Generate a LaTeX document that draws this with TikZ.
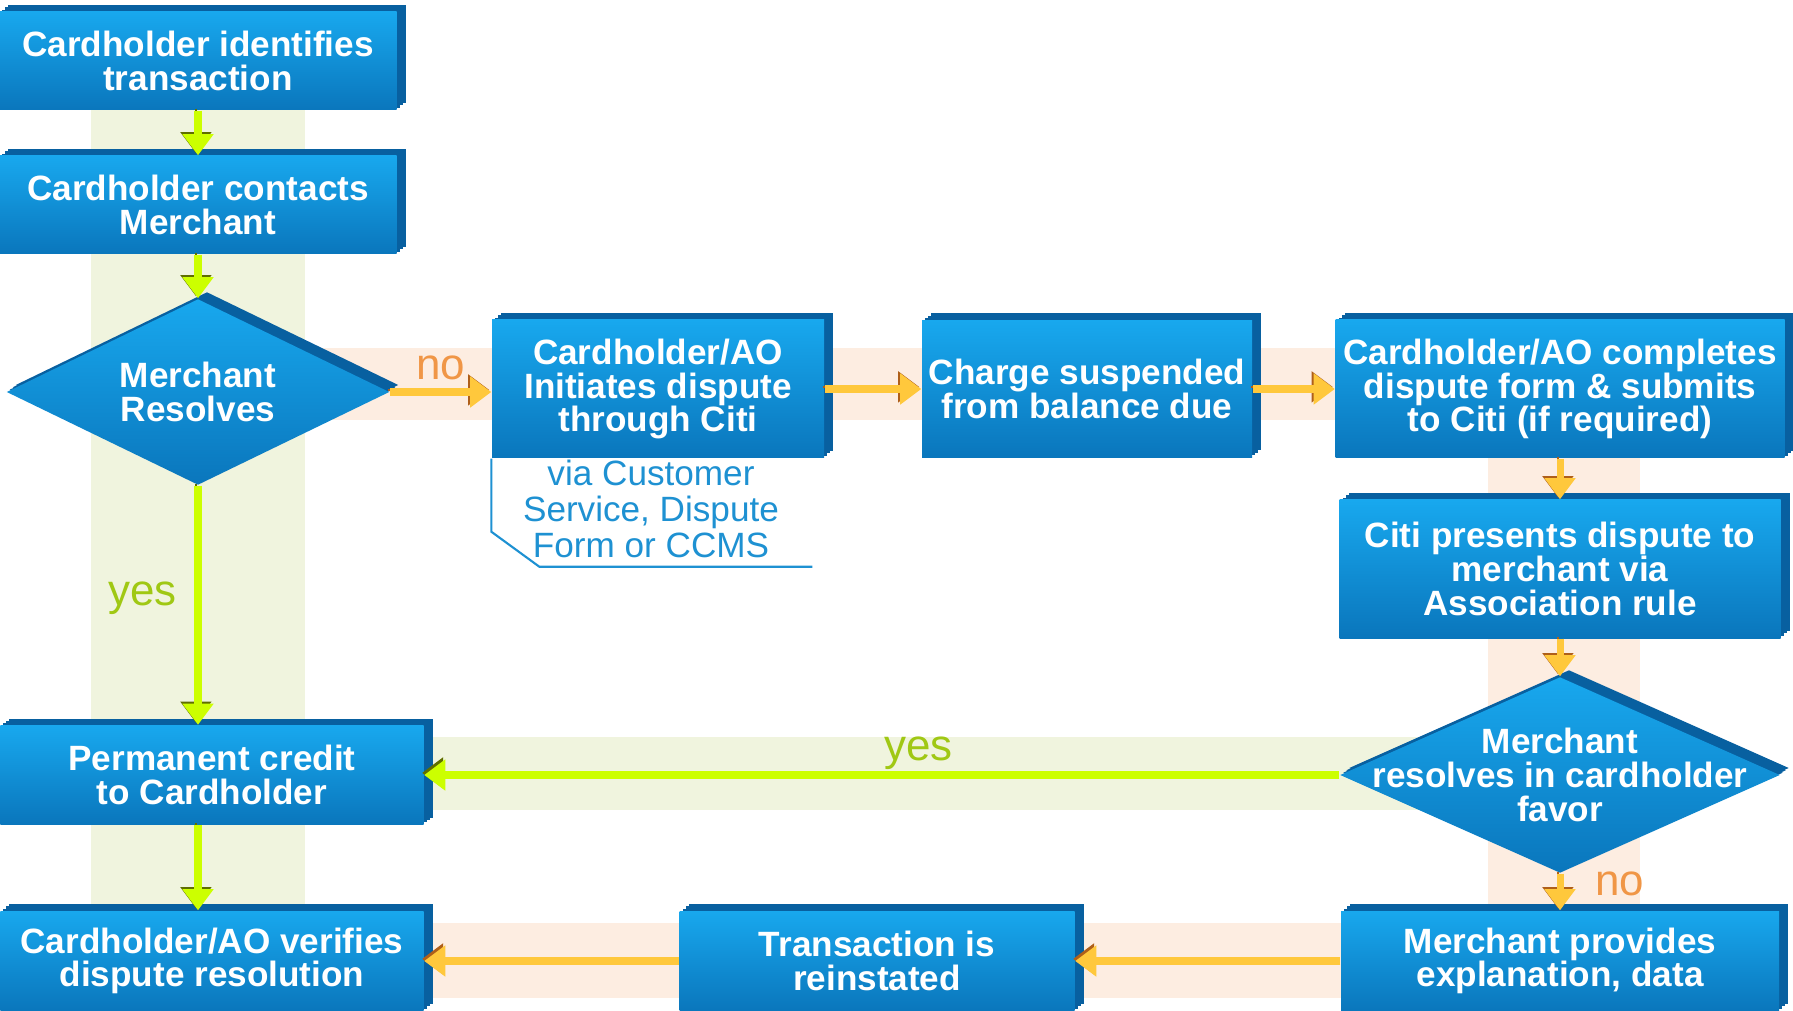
\documentclass[tikz,border=0pt]{standalone}
\usepackage{fontspec}
\setmainfont{Liberation Sans}
\usetikzlibrary{shapes.geometric,arrows.meta}

\definecolor{boxtop}{RGB}{24,168,238}
\definecolor{boxbot}{RGB}{10,118,188}
\definecolor{boxside}{RGB}{8,96,160}
\definecolor{gband}{RGB}{240,244,222}
\definecolor{oband}{RGB}{253,237,225}
\definecolor{garrowc}{RGB}{204,255,0}
\definecolor{gedge}{RGB}{95,110,0}
\definecolor{oarrowc}{RGB}{255,200,60}
\definecolor{oedge}{RGB}{175,95,25}
\definecolor{yesclr}{RGB}{160,200,20}
\definecolor{noclr}{RGB}{240,150,70}
\definecolor{viaclr}{RGB}{30,145,210}

\begin{document}
\begin{tikzpicture}[
        depth/.style={preaction={fill=boxside, transform canvas={xshift=0.03cm, yshift=0.023cm}},
            preaction={fill=boxside, transform canvas={xshift=0.06cm, yshift=0.047cm}},
            preaction={fill=boxside, transform canvas={xshift=0.09cm, yshift=0.07cm}}},
        box/.style={rectangle, depth, top color=boxtop, bottom color=boxbot, text=white, align=center, inner sep=1pt,
            font=\bfseries\fontsize{10}{9.6}\selectfont},
        decision/.style={diamond, depth, top color=boxtop, bottom color=boxbot, inner sep=0pt},
        dtext/.style={text=white, align=center, font=\bfseries\fontsize{10}{9.6}\selectfont},
        garrow/.style={draw=garrowc, line width=2pt, -{Triangle[width=8.5pt,length=6pt]},
            preaction={draw=gedge, transform canvas={xshift=-0.6pt, yshift=0.6pt}}},
        oarrow/.style={draw=oarrowc, line width=2pt, -{Triangle[width=8.5pt,length=6pt]},
            preaction={draw=oedge, transform canvas={xshift=-0.6pt, yshift=0.6pt}}},
        yeslbl/.style={text=yesclr, font=\fontsize{12.5}{14}\selectfont},
        nolbl/.style={text=noclr, font=\fontsize{12.5}{14}\selectfont}
    ]
        \useasboundingbox (0,0) rectangle (17.93,-10.11);

        % bands behind the flow
        \fill[gband] (0.91,-0.6) rectangle (3.05,-9.6);
        \fill[oband] (3.05,-3.48) rectangle (16.40,-4.20);
        \fill[oband] (14.88,-3.9) rectangle (16.40,-10.11);
        \fill[gband] (3.05,-7.37) rectangle (14.9,-8.10);
        \fill[oband] (3.05,-9.23) rectangle (15.5,-9.98);

        \node[box, minimum width=3.97cm, minimum height=0.98cm] (1) at (1.98,-0.61) {Cardholder identifies\\transaction};
        \node[box, below of=1, node distance=1.44cm, minimum width=3.97cm, minimum height=0.98cm] (2) {Cardholder contacts\\Merchant};
        \node[decision, below of=2, node distance=1.87cm, minimum width=3.83cm, minimum height=1.86cm,
            label={[dtext]center:{Merchant\\Resolves}}] (3) {};

        \node[box, right of=3, node distance=4.6cm, yshift=0.03cm, minimum width=3.32cm, minimum height=1.38cm] (4) {Cardholder/AO\\Initiates dispute\\through Citi};
        \node[box, right of=4, node distance=4.29cm, minimum width=3.3cm, minimum height=1.37cm] (5) {Charge suspended\\from balance due};
        \node[box, right of=5, node distance=4.73cm, minimum width=4.49cm, minimum height=1.38cm] (6) {Cardholder/AO completes\\dispute form \& submits\\to Citi (if required)};
        \node[box, below of=6, node distance=1.8cm, minimum width=4.41cm, minimum height=1.38cm] (7) {Citi presents dispute to\\merchant via\\Association rule};
        \node[decision, below of=7, node distance=2.06cm, minimum width=4.4cm, minimum height=1.96cm,
            label={[dtext]center:{Merchant\\resolves in cardholder\\favor}}] (8) {};
        \node[box, below of=8, node distance=1.86cm, minimum width=4.38cm, minimum height=1.0cm] (9) {Merchant provides\\explanation, data};
        \node[box, left of=9, node distance=6.83cm, minimum width=3.95cm, minimum height=1.0cm] (10) {Transaction is\\reinstated};
        \node[box, left of=10, node distance=6.65cm, minimum width=4.23cm, minimum height=1.0cm] (11) {Cardholder/AO verifies\\dispute resolution};
        \node[box, above of=11, node distance=1.86cm, minimum width=4.23cm, minimum height=0.99cm] (12) {Permanent credit\\to Cardholder};

        \node[below of=4, node distance=1.2cm, xshift=-0.07cm, text=viaclr, align=center,
            font=\fontsize{10}{10.3}\selectfont] (via) {via Customer\\Service, Dispute\\Form or CCMS};
        \draw[viaclr, line width=0.6pt] (4.south west) -- ++(0,-0.73) -- ++(0.48,-0.35) -- ++(2.73,0);

        \draw[garrow] (1) -- (2);
        \draw[garrow] (2) -- (3);
        \draw[garrow] (3.south) -- (3.south |- 12.north) node[pos=0.47, left=0.06cm, yeslbl] {yes};
        \draw[garrow] (12.south -| 3.south) -- (11.north -| 3.south);
        \draw[oarrow] (3.east) -- (3.east -| 4.west) node[midway, above=0cm, yshift=-0.03cm, nolbl] {no};
        \draw[oarrow] (4) -- (5);
        \draw[oarrow] (5) -- (6);
        \draw[oarrow] (6) -- (7);
        \draw[oarrow] (7) -- (8);
        \draw[garrow] (8) -- (12) node[pos=0.46, above=0cm, yshift=-0.1cm, yeslbl] {yes};
        \draw[oarrow] (8) -- (9) node[midway, right=0.2cm, yshift=0.08cm, nolbl] {no};
        \draw[oarrow] (9) -- (10);
        \draw[oarrow] (10) -- (11);
    \end{tikzpicture}
\end{document}
